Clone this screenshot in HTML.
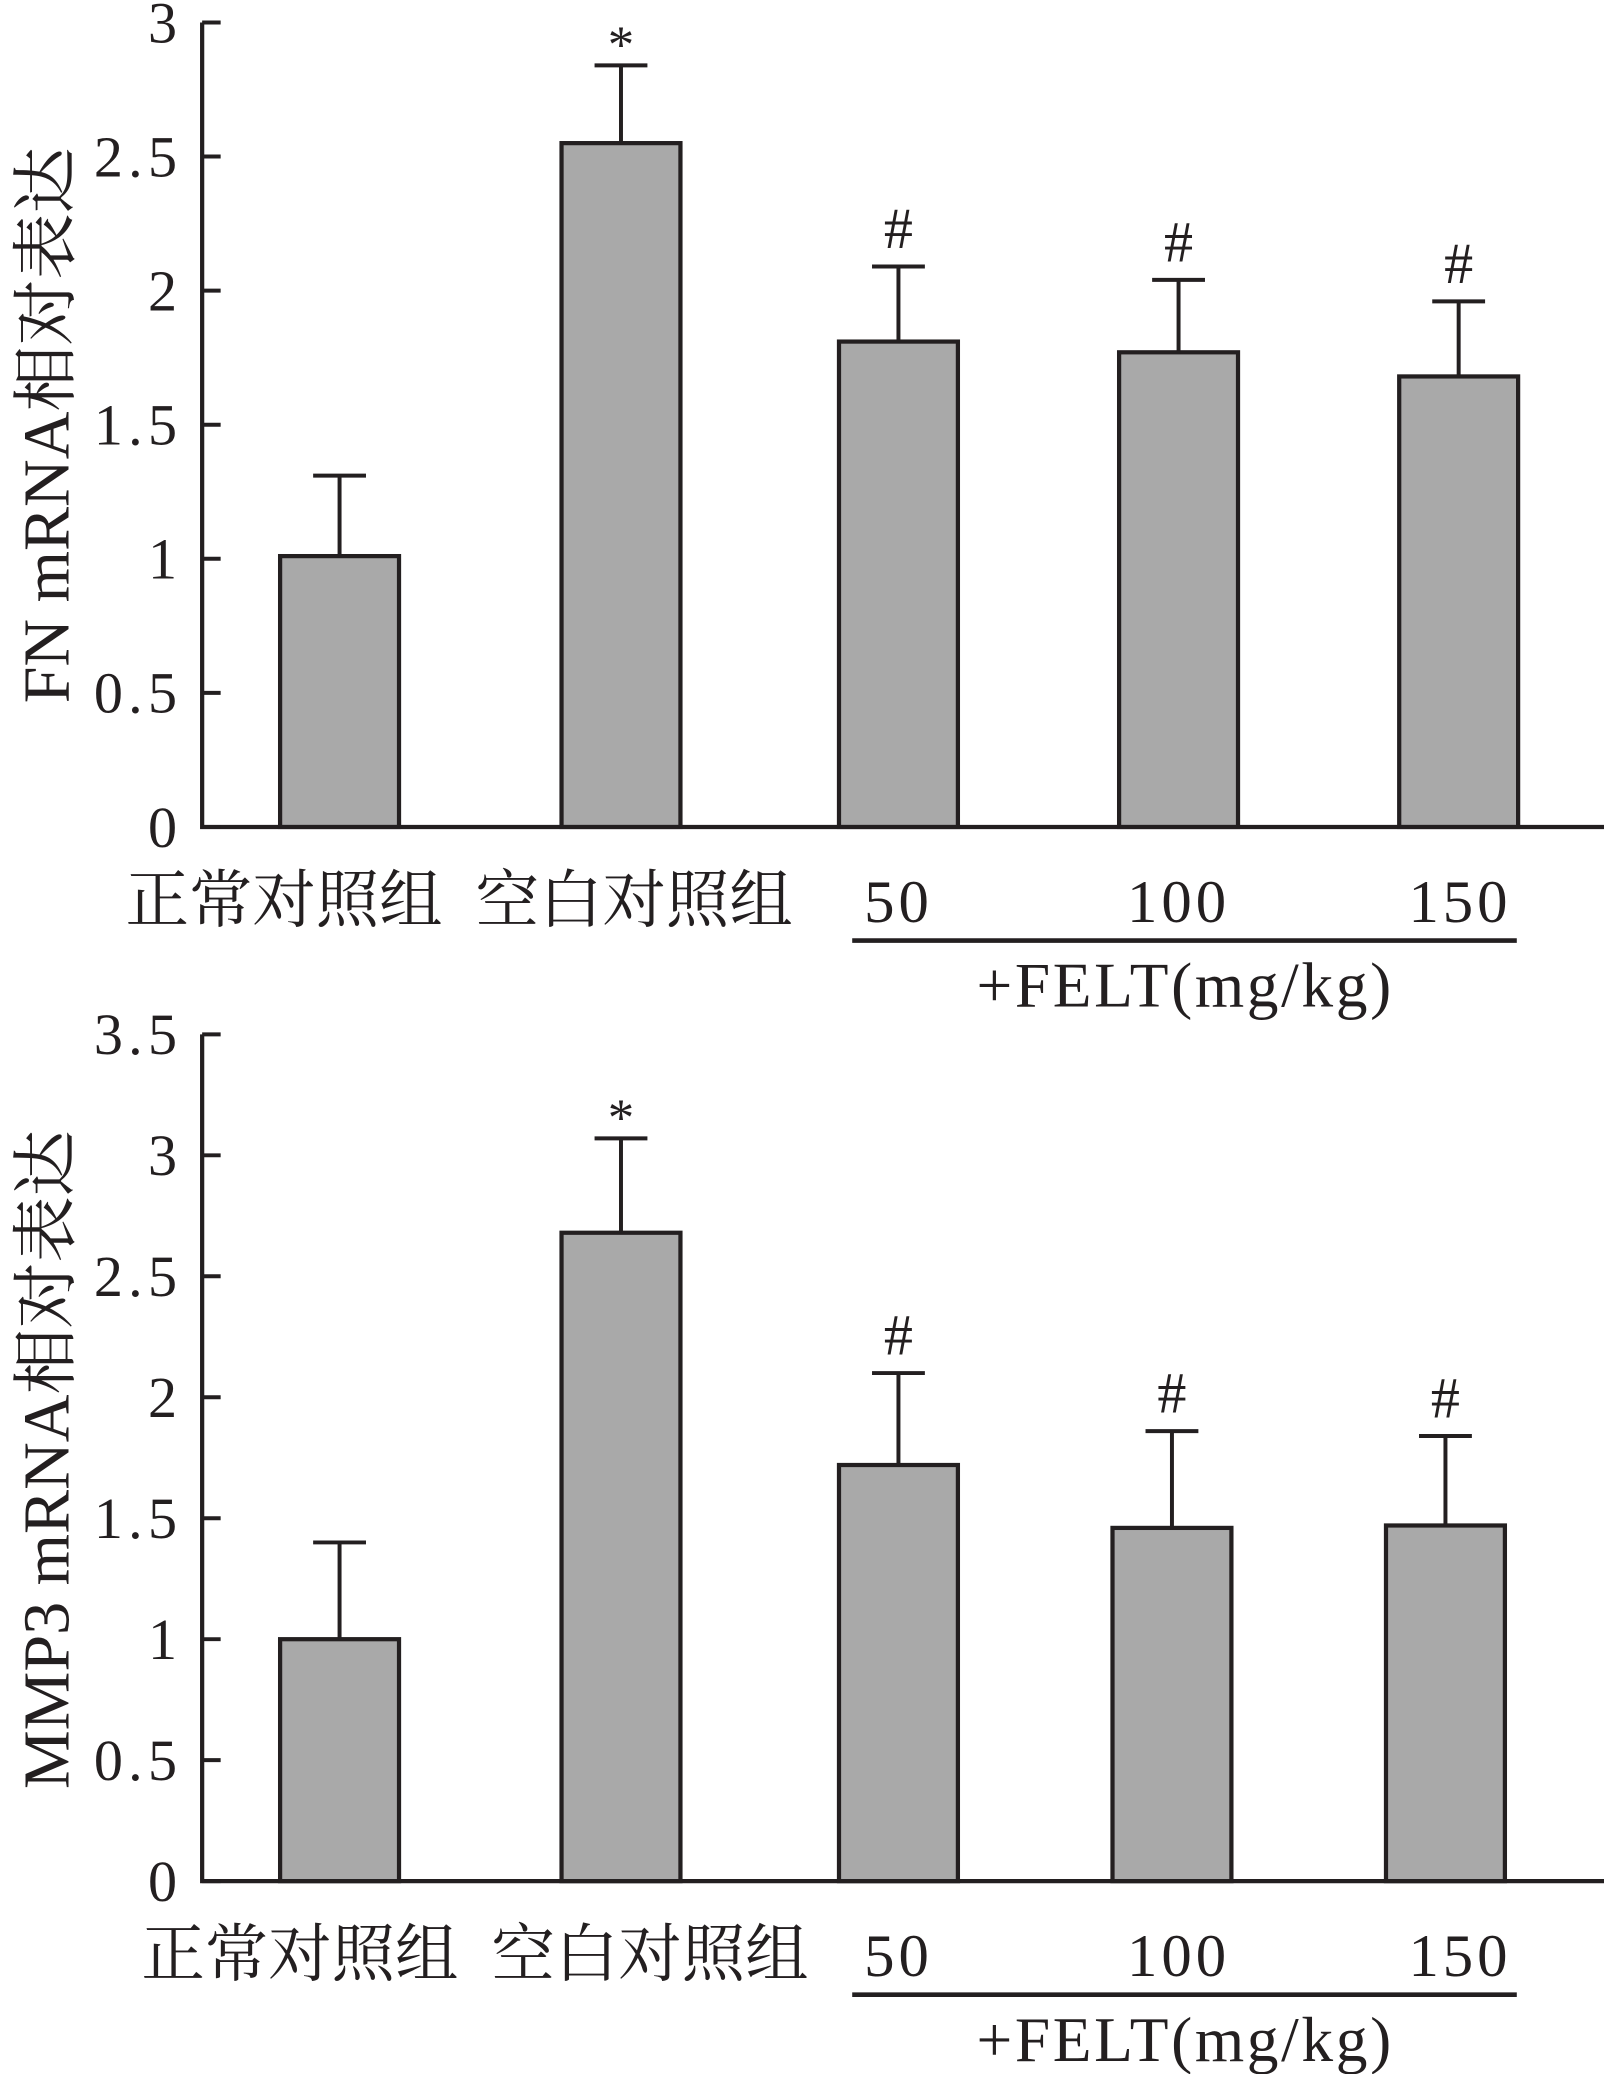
<!DOCTYPE html>
<html><head><meta charset="utf-8"><style>
html,body{margin:0;padding:0;background:#fff;}
svg{display:block;}
text{font-family:"Liberation Serif","Noto Serif CJK SC",serif;fill:#231f20;}
</style></head><body>
<svg id="chart" width="1604" height="2074" viewBox="0 0 1214 1570" preserveAspectRatio="none" xmlns="http://www.w3.org/2000/svg"></svg>
<script>
const categories = ["正常对照组", "空白对照组", "50", "100", "150"];
const fnValues = [1.01, 2.55, 1.81, 1.77, 1.68];
const fnErrors = [0.30, 0.29, 0.28, 0.27, 0.28];
const fnMarks = ["", "*", "#", "#", "#"];
const fnTicks = ["0", "0.5", "1", "1.5", "2", "2.5", "3"];
const mmpValues = [1.00, 2.68, 1.72, 1.46, 1.47];
const mmpErrors = [0.40, 0.39, 0.38, 0.40, 0.37];
const mmpMarks = ["", "*", "#", "#", "#"];
const mmpTicks = ["0", "0.5", "1", "1.5", "2", "2.5", "3", "3.5"];

const NS = "http://www.w3.org/2000/svg";
const svg = document.getElementById("chart");
function mk(tag, attrs, parent) {
  const e = document.createElementNS(NS, tag);
  for (const k in attrs) e.setAttribute(k, attrs[k]);
  (parent || svg).appendChild(e);
  return e;
}

function panel(cfg) {
  const g = mk("g", {});
  
  
  const ymax = parseFloat(cfg.ticks[cfg.ticks.length - 1]);
  const y = v => cfg.zero - (cfg.zero - cfg.top) * v / ymax;
  const barX = cfg.barX;
  const bw = 90;
  const ax = mk("path", {d: `M153 ${cfg.top} V${cfg.zero} H1214`, fill: "none", stroke: "#231f20", "stroke-width": 3.2}, g);
  
  
  cfg.ticks.forEach(t => {
    const v = parseFloat(t);
    const ty = y(v);
    const tk = mk("line", {x1: 153, x2: 167, y1: ty, y2: ty, stroke: "#231f20", "stroke-width": 3}, g);
    
    
    const tl = mk("text", {x: 138, y: ty + 15, "text-anchor": "end", "font-size": 44, "letter-spacing": 4}, g);
    tl.textContent = t;
    
    
  });
  cfg.values.forEach((v, i) => {
    const x0 = barX[i];
    const cx = x0 + bw / 2;
    const top = y(v), et = y(v + cfg.errors[i]);
    const eb = mk("path", {d: `M${cx} ${top} V${et} M${cx - 20} ${et} H${cx + 20}`, stroke: "#231f20", "stroke-width": 3, fill: "none"}, g);
    
    
    const r = mk("rect", {x: x0, y: top, width: bw, height: cfg.zero - top, fill: "#a9a9a9", stroke: "#231f20", "stroke-width": 3.2}, g);
    
    
    if (cfg.marks[i]) {
      const m = mk("text", {x: cx, y: et - (cfg.marks[i] === "*" ? 2 : 14), "text-anchor": "middle", "font-size": cfg.marks[i] === "*" ? 40 : 44}, g);
      m.textContent = cfg.marks[i];
      
      
    }
  });
  const labY = cfg.zero + 72;
  const labX = [215, 480, 680, 892, 1105];
  categories.forEach((c, i) => {
    const t = mk("text", {x: labX[i] + (cfg.labShift || 0) * (i < 2 ? 1 : 0), y: labY, "text-anchor": "middle", "font-size": i < 2 ? 48 : 46, "letter-spacing": i < 2 ? 0 : 3}, g);
    t.textContent = c;
    
    
  });
  const ul = mk("line", {x1: 645, x2: 1148, y1: cfg.zero + 86, y2: cfg.zero + 86, stroke: "#231f20", "stroke-width": 3.5}, g);
  
  
  const fl = mk("text", {x: 897, y: cfg.zero + 136, "text-anchor": "middle", "font-size": 48, "letter-spacing": 2}, g);
  fl.textContent = "+FELT(mg/kg)";
  
  
  const yl = mk("text", {x: 0, y: 0, "text-anchor": "middle", "font-size": 50, transform: `translate(52 ${cfg.ylabY}) rotate(-90)`}, g);
  yl.textContent = cfg.ylabel;
  
  
}

panel({name: "fn-chart", top: 17, zero: 626, ticks: fnTicks, values: fnValues, errors: fnErrors, marks: fnMarks,
  barX: [212, 425, 635, 847, 1059], ylabel: "FN mRNA相对表达", ylabY: 322, labShift: 0});
panel({name: "mmp3-chart", top: 783, zero: 1424, ticks: mmpTicks, values: mmpValues, errors: mmpErrors, marks: mmpMarks,
  barX: [212, 425, 635, 842, 1049], ylabel: "MMP3 mRNA相对表达", ylabY: 1105, labShift: 12});
</script>
</body></html>
